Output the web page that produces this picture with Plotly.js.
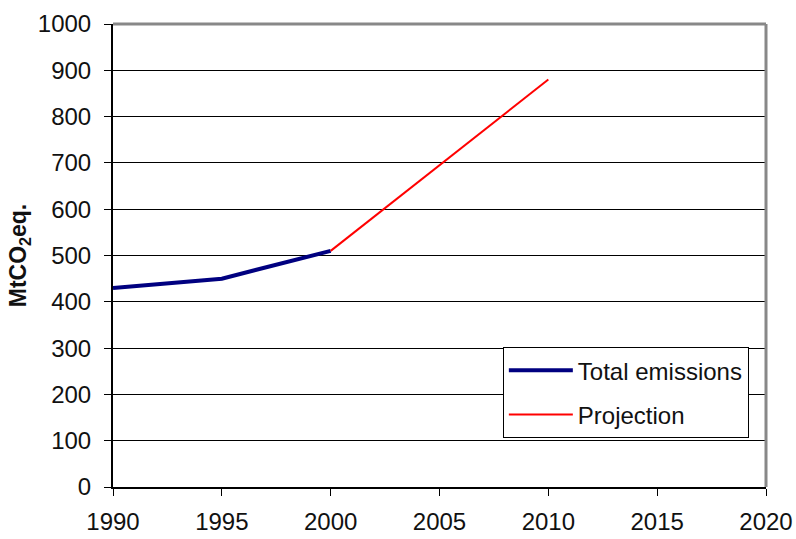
<!DOCTYPE html>
<html>
<head>
<meta charset="utf-8">
<script src="https://cdn.plot.ly/plotly-3.0.1.min.js"></script>
<style>html,body{margin:0;padding:0;background:#fff;}#chart{width:796px;height:539px;}</style>
</head>
<body>
<div id="chart"></div>
<script>
const totalYears = [1990, 1995, 2000];
const totalValues = [430, 450, 510];
const projYears = [2000, 2010];
const projValues = [510, 880];
const xTicks = [1990, 1995, 2000, 2005, 2010, 2015, 2020];
const yTicks = [0, 100, 200, 300, 400, 500, 600, 700, 800, 900, 1000];

const traces = [
  {x: totalYears, y: totalValues, mode: 'lines', name: 'Total emissions', legendgroup: 'a',
   line: {color: '#000080', width: 4}},
  {x: projYears, y: projValues, mode: 'lines', name: 'Projection', legendgroup: 'b',
   line: {color: '#ff0000', width: 2}}
];

const font = "Liberation Sans, Arial, sans-serif";
const layout = {
  width: 796, height: 539,
  margin: {l: 113, r: 30, t: 24, b: 52},
  paper_bgcolor: '#fff', plot_bgcolor: '#fff',
  font: {family: font, size: 24, color: '#000'},
  showlegend: true,
  legend: {x: 0.597, y: 0.302, xanchor: 'left', yanchor: 'top',
    bgcolor: '#fff', bordercolor: '#000', borderwidth: 1, traceorder: 'grouped',
    font: {family: font, size: 24, color: '#111'}, tracegroupgap: 10, itemwidth: 64},
  xaxis: {range: [1990, 2020], tickvals: xTicks, ticktext: xTicks.map(String),
    showgrid: false, zeroline: false, showline: true, linecolor: '#000', linewidth: 2,
    ticks: 'outside', ticklen: 7, tickcolor: '#000', tickwidth: 1, ticklabelstandoff: 5,
    tickfont: {family: font, size: 24, color: '#111'}},
  yaxis: {range: [0, 1000], tickvals: yTicks, ticktext: yTicks.map(String),
    showgrid: true, gridcolor: '#000', gridwidth: 1, zeroline: false,
    showline: true, linecolor: '#000', linewidth: 2,
    ticks: 'outside', ticklen: 7, tickcolor: '#000', tickwidth: 1, ticklabelstandoff: 8,
    tickfont: {family: font, size: 24, color: '#111'},
    title: {text: '<b>MtCO<sub>2</sub>eq.</b>', font: {family: font, size: 23, color: '#111'}, standoff: 5}},
  shapes: [
    {type: 'line', xref: 'paper', yref: 'paper', x0: 0, x1: 1, y0: 1, y1: 1,
     line: {color: '#888', width: 3}},
    {type: 'line', xref: 'paper', yref: 'paper', x0: 1, x1: 1, y0: 0, y1: 1,
     line: {color: '#888', width: 3}}
  ]
};

Plotly.newPlot('chart', traces, layout, {displayModeBar: false, staticPlot: true});
</script>
</body>
</html>
